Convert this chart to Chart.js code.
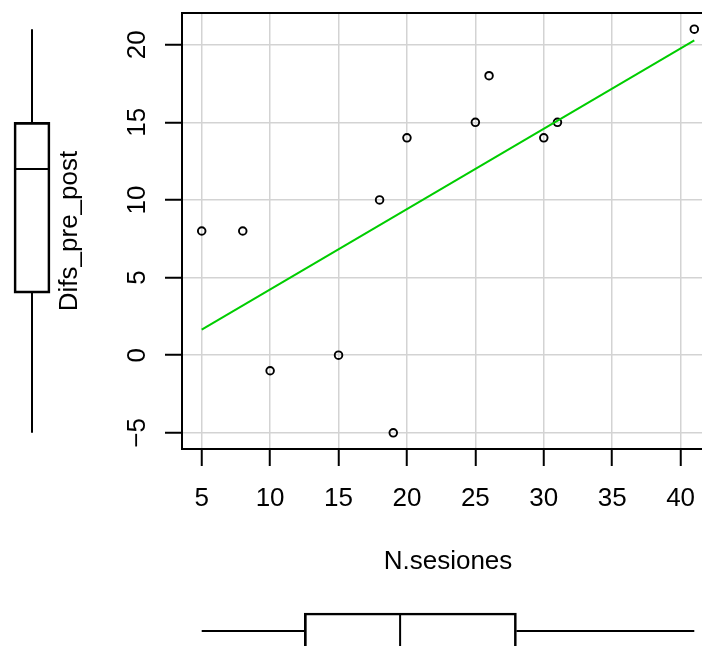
<!DOCTYPE html>
<html>
<head>
<meta charset="utf-8">
<script src="https://cdn.jsdelivr.net/npm/chart.js@4/dist/chart.umd.min.js"></script>
<style>
    html, body { margin: 0; padding: 0; background: #fff; }
    #wrap { position: relative; width: 702px; height: 646px; overflow: hidden; }
    #wrap canvas { position: absolute; }
</style>
</head>
<body>
<div id="wrap">
    <canvas id="mainChart" style="left:0;top:0;"></canvas>
    <canvas id="yBoxChart" style="left:-4px;top:0;"></canvas>
    <canvas id="xBoxChart" style="left:0;top:595px;"></canvas>
</div>
<script>
// ============================================
// Data
// ============================================
const nSesiones = [5, 8, 10, 15, 18, 19, 20, 25, 26, 30, 31, 41];
const difsPrePost = [8, 8, -1, 0, 10, -5, 14, 15, 18, 14, 15, 21];

// regression line ends
const fitX = [5, 41];
const fitY = [1.65, 20.27];

// boxplot stats: min, lower hinge, median, upper hinge, max
const xBoxStats = [5, 12.5, 19.5, 28, 41];
const yBoxStats = [-5, 4, 12, 15, 21];

const xTicks = [5, 10, 15, 20, 25, 30, 35, 40];
const yTicks = [-5, 0, 5, 10, 15, 20];

const xLabel = 'N.sesiones';
const yLabel = 'Difs_pre_post';

// axis ranges (R style, 4% extension)
const X_MIN = 3.56, X_MAX = 42.44;
const Y_MIN = -6.04, Y_MAX = 22.04;

const FONT = 'Liberation Sans, Arial, Helvetica, sans-serif';
const FONT_SIZE = 26;
const GREEN = '#00CD00';
const GRID = '#d3d3d3';

// ============================================
// Plugins
// ============================================
const frameAndYLabels = {
    id: 'frameAndYLabels',
    afterDraw(chart) {
        const ctx = chart.ctx;
        const a = chart.chartArea;
        const y = chart.scales.y;
        ctx.save();
        ctx.strokeStyle = '#000';
        ctx.lineWidth = 2;
        ctx.strokeRect(a.left, a.top, a.right - a.left, a.bottom - a.top);

        // rotated y tick labels like R (las = 0)
        ctx.fillStyle = '#000';
        ctx.font = FONT_SIZE + 'px ' + FONT;
        ctx.textAlign = 'center';
        ctx.textBaseline = 'middle';
        y.ticks.forEach(function(t, i) {
            const py = y.getPixelForTick(i);
            ctx.save();
            ctx.translate(138, py);
            ctx.rotate(-Math.PI / 2);
            ctx.fillText(String(t.value).replace('-', '\u2212'), 0, 0);
            ctx.restore();
        });
        ctx.restore();
    }
};

// ============================================
// Main scatter
// ============================================
function initMainChart() {
    const el = document.getElementById('mainChart');
    el.width = 720;
    el.height = 646;

    const points = nSesiones.map(function(x, i) {
        return { x: x, y: difsPrePost[i] };
    });
    const fit = fitX.map(function(x, i) {
        return { x: x, y: fitY[i] };
    });

    new Chart(el.getContext('2d'), {
        type: 'scatter',
        data: {
            datasets: [{
                data: fit,
                showLine: true,
                borderColor: GREEN,
                borderWidth: 2,
                pointRadius: 0
            }, {
                data: points,
                pointRadius: 3.8,
                pointBorderWidth: 1.9,
                borderColor: '#000',
                backgroundColor: 'rgba(0,0,0,0)'
            }]
        },
        options: {
            responsive: false,
            animation: false,
            layout: { padding: { top: 13, right: 6, left: 0, bottom: 0 } },
            plugins: {
                legend: { display: false },
                tooltip: { enabled: false }
            },
            scales: {
                x: {
                    type: 'linear',
                    min: X_MIN,
                    max: X_MAX,
                    afterBuildTicks: function(s) { s.ticks = xTicks.map(function(v) { return { value: v }; }); },
                    afterFit: function(s) { s.height = 197; },
                    grid: {
                        color: GRID,
                        lineWidth: 1.5,
                        tickColor: '#000',
                        tickLength: 17,
                        tickWidth: 2
                    },
                    border: { display: false },
                    ticks: {
                        color: '#000',
                        padding: 17,
                        maxRotation: 0,
                        font: { family: FONT, size: FONT_SIZE }
                    },
                    title: {
                        display: true,
                        text: xLabel,
                        color: '#000',
                        font: { family: FONT, size: FONT_SIZE },
                        padding: { top: 0, bottom: 69 }
                    }
                },
                y: {
                    type: 'linear',
                    min: Y_MIN,
                    max: Y_MAX,
                    afterBuildTicks: function(s) { s.ticks = yTicks.map(function(v) { return { value: v }; }); },
                    afterFit: function(s) { s.width = 182; },
                    grid: {
                        color: GRID,
                        lineWidth: 1.5,
                        tickColor: '#000',
                        tickLength: 17,
                        tickWidth: 2
                    },
                    border: { display: false },
                    // labels are drawn rotated by the plugin above
                    ticks: { color: 'rgba(0,0,0,0)', font: { family: FONT, size: 2 } },
                    title: {
                        display: true,
                        text: yLabel,
                        color: '#000',
                        font: { family: FONT, size: FONT_SIZE },
                        padding: { top: 54, bottom: 0 }
                    }
                }
            }
        },
        plugins: [frameAndYLabels]
    });
}

// ============================================
// Marginal boxplots
// ============================================
function boxDatasets(stats, vertical) {
    // stats = [min, q1, med, q3, max]; cross axis runs -1..1, box half width 0.5
    function seg(a, b, c, d) {
        return vertical
            ? [{ x: a, y: b }, { x: c, y: d }]
            : [{ x: b, y: a }, { x: d, y: c }];
    }
    const line = {
        type: 'line',
        borderColor: '#000',
        borderWidth: 2,
        pointRadius: 0,
        fill: false
    };
    return [
        Object.assign({}, line, { data: seg(0, stats[0], 0, stats[1]) }),
        Object.assign({}, line, { data: seg(0, stats[3], 0, stats[4]) }),
        {
            type: 'bar',
            indexAxis: vertical ? 'x' : 'y',
            data: vertical ? [{ x: 0, y: [stats[1], stats[3]] }] : [{ y: 0, x: [stats[1], stats[3]] }],
            backgroundColor: 'rgba(0,0,0,0)',
            borderColor: '#000',
            borderWidth: 2,
            borderSkipped: false,
            barThickness: 36
        },
        Object.assign({}, line, { data: seg(-0.5, stats[2], 0.5, stats[2]) })
    ];
}

function boxOptions(valueMin, valueMax, vertical, padding) {
    const cross = { type: 'linear', display: false, offset: false, min: -1, max: 1 };
    const val = { type: 'linear', display: false, offset: false, min: valueMin, max: valueMax };
    return {
        responsive: false,
        animation: false,
        layout: { padding: padding },
        plugins: { legend: { display: false }, tooltip: { enabled: false } },
        scales: vertical ? { x: cross, y: val } : { x: val, y: cross }
    };
}

function initBoxCharts() {
    const yEl = document.getElementById('yBoxChart');
    yEl.width = 72;
    yEl.height = 646;
    new Chart(yEl.getContext('2d'), {
        type: 'bar',
        data: { datasets: boxDatasets(yBoxStats, true) },
        options: boxOptions(Y_MIN, Y_MAX, true, { top: 13, bottom: 197, left: 0, right: 0 })
    });

    const xEl = document.getElementById('xBoxChart');
    xEl.width = 720;
    xEl.height = 72;
    new Chart(xEl.getContext('2d'), {
        type: 'bar',
        data: { datasets: boxDatasets(xBoxStats, false) },
        options: boxOptions(X_MIN, X_MAX, false, { top: 0, bottom: 0, left: 182, right: 6 })
    });
}

document.addEventListener('DOMContentLoaded', function() {
    initMainChart();
    initBoxCharts();
});
</script>
</body>
</html>
